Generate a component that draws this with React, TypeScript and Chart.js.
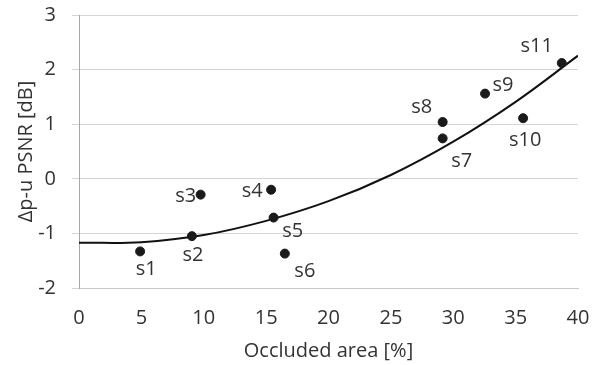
import React, { useEffect, useRef } from 'react';
import { Chart, registerables } from 'chart.js';

Chart.register(...registerables);

// ---- Data ----
const sampleNames = ['s1', 's2', 's3', 's4', 's5', 's6', 's7', 's8', 's9', 's10', 's11'];
const occludedArea = [4.9, 9.05, 9.75, 15.4, 15.6, 16.5, 29.15, 29.15, 32.55, 35.6, 38.7];
const deltaPsnr = [-1.33, -1.05, -0.29, -0.2, -0.71, -1.37, 0.74, 1.04, 1.56, 1.11, 2.12];
// trendline
const trendX = [0, 5, 10, 15, 20, 25, 30, 35, 40];
const trendY = [-1.17, -1.16, -1.03, -0.77, -0.41, 0.07, 0.68, 1.41, 2.255];
const xTickValues = [0, 5, 10, 15, 20, 25, 30, 35, 40];
const yTickValues = [-2, -1, 0, 1, 2, 3];

// label placement relative to each point (px)
const labelOffsets: [number, number][] = [
  [6, 18], [1, 19], [-15, 2], [-19, 2], [19, 14], [20, 18],
  [19, 23], [-21, -15], [18, -8], [2, 22], [-25, -17],
];

const FONT = '"Open Sans", sans-serif';
const TEXT = '#333333';

export default function App() {
  const ref = useRef<HTMLCanvasElement | null>(null);

  useEffect(() => {
    if (!ref.current) return;

    const labelPlugin = {
      id: 'pointLabels',
      afterDatasetsDraw(chart: any) {
        const ctx = chart.ctx;
        const meta = chart.getDatasetMeta(0);
        ctx.save();
        ctx.font = `20px ${FONT}`;
        ctx.fillStyle = TEXT;
        ctx.textAlign = 'center';
        ctx.textBaseline = 'middle';
        meta.data.forEach((el: any, i: number) => {
          const [dx, dy] = labelOffsets[i];
          ctx.fillText(sampleNames[i], el.x + dx, el.y + dy);
        });
        ctx.restore();
      },
    };

    const bgPlugin = {
      id: 'bg',
      beforeDraw(chart: any) {
        const ctx = chart.ctx;
        ctx.save();
        ctx.fillStyle = '#ffffff';
        ctx.fillRect(0, 0, chart.width, chart.height);
        ctx.restore();
      },
    };

    const chart = new Chart(ref.current, {
      type: 'scatter',
      data: {
        datasets: [
          {
            label: 'samples',
            data: occludedArea.map((x, i) => ({ x, y: deltaPsnr[i] })),
            backgroundColor: '#1a1a1a',
            borderColor: '#1a1a1a',
            pointRadius: 4.5,
            pointHoverRadius: 4.5,
            showLine: false,
          },
          {
            label: 'trend',
            data: trendX.map((x, i) => ({ x, y: trendY[i] })),
            borderColor: '#111111',
            borderWidth: 2,
            pointRadius: 0,
            showLine: true,
            tension: 0.4,
            fill: false,
          } as any,
        ],
      },
      options: {
        animation: false,
        responsive: false,
        devicePixelRatio: 1,
        layout: { padding: { top: 15, right: 23, left: 0, bottom: 0 } },
        plugins: {
          legend: { display: false },
          tooltip: { enabled: false },
        },
        scales: {
          x: {
            type: 'linear',
            min: 0,
            max: 40,
            afterBuildTicks: (s: any) => { s.ticks = xTickValues.map((v) => ({ value: v })); },
            afterFit: (s: any) => {
              s.height = 77;
              s.paddingLeft = 0; s.paddingRight = 0; s.paddingTop = 0; s.paddingBottom = 0;
            },
            ticks: { font: { family: FONT, size: 20 }, color: TEXT, padding: 18, maxRotation: 0 },
            grid: { display: false, drawTicks: false },
            border: { display: true, color: '#c8c8c8', width: 1 },
            title: {
              display: true,
              text: 'Occluded area [%]',
              font: { family: FONT, size: 20 },
              color: TEXT,
              padding: { top: 0, bottom: 2 },
            },
          },
          y: {
            type: 'linear',
            min: -2,
            max: 3,
            afterBuildTicks: (s: any) => { s.ticks = yTickValues.map((v) => ({ value: v })); },
            afterFit: (s: any) => {
              s.width = 79;
              s.paddingLeft = 0; s.paddingRight = 0; s.paddingTop = 0; s.paddingBottom = 0;
            },
            ticks: { font: { family: FONT, size: 20 }, color: TEXT, padding: 16 },
            grid: { color: '#d4d4d4', lineWidth: 1, tickLength: 7, drawTicks: true },
            border: { display: true, color: '#a8a8a8', width: 1 },
            title: {
              display: true,
              text: 'Δp-u PSNR [dB]',
              font: { family: FONT, size: 20 },
              color: TEXT,
              padding: { top: 14, bottom: 0 },
            },
          },
        },
      },
      plugins: [bgPlugin, labelPlugin],
    } as any);

    return () => chart.destroy();
  }, []);

  return (
    <div style={{ position: 'fixed', left: 0, top: 0, width: 601, height: 365, background: '#fff' }}>
      <canvas ref={ref} width={601} height={365} />
    </div>
  );
}
